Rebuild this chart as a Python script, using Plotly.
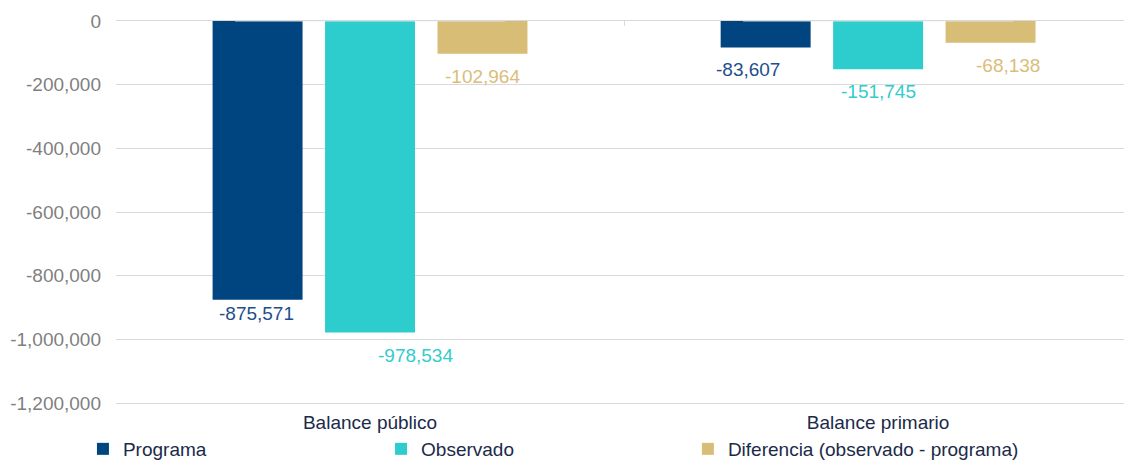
import plotly.graph_objects as go

categories = ["Balance público", "Balance primario"]
programa = [-875571, -83607]
observado = [-978534, -151745]
diferencia = [-102964, -68138]

series_names = ["Programa", "Observado", "Diferencia (observado - programa)"]
bar_colors = ["#00457F", "#2ECDCD", "#D8BD77"]
label_colors = ["#1F4E8C", "#33CCCC", "#D9BE7A"]

y_ticks = [0, -200000, -400000, -600000, -800000, -1000000, -1200000]
y_tick_text = ["0", "-200,000", "-400,000", "-600,000", "-800,000", "-1,000,000", "-1,200,000"]

# styling: pixel offsets of each bar within its group and of the data labels
slot_shift = [-113, 0, 112.5]
label_dx = [[-1, -17.5], [45, 0], [0, 17.5]]
label_dy = [[15, 23], [23.5, 23.4], [23.7, 24]]
legend_x = [0.0738, 0.339, 0.612]

FONT = "Liberation Sans, Arial, sans-serif"
FS = 19

fig = go.Figure()
series = [programa, observado, diferencia]
for i, (name, vals, col) in enumerate(zip(series_names, series, bar_colors)):
    fig.add_trace(go.Bar(
        x=categories, y=vals, name=name,
        marker=dict(color=col, line=dict(width=0)),
        legend="legend" if i == 0 else f"legend{i+1}",
    ))
    for j, v in enumerate(vals):
        fig.add_annotation(
            x=categories[j], y=v, xref="x", yref="y",
            text=f"{v:,}", showarrow=False,
            xanchor="center", yanchor="middle",
            xshift=slot_shift[i] + label_dx[i][j], yshift=-label_dy[i][j] + 1,
            font=dict(family=FONT, size=FS, color=label_colors[i]),
        )

leg_common = dict(
    orientation="h", xref="container", yref="container",
    xanchor="left", y=-0.0085, yanchor="bottom",
    itemwidth=30, font=dict(family=FONT, size=FS, color="#1B2A4A"),
    bgcolor="rgba(0,0,0,0)",
)

fig.update_layout(
    width=1124, height=468,
    margin=dict(l=116, r=0, t=21, b=65, autoexpand=False),
    plot_bgcolor="white", paper_bgcolor="white",
    barmode="group", bargap=0.336, bargroupgap=0.2,
    font=dict(family=FONT, size=FS),
    showlegend=True,
    legend=dict(x=legend_x[0], **leg_common),
    legend2=dict(x=legend_x[1], **leg_common),
    legend3=dict(x=legend_x[2], **leg_common),
)

fig.update_yaxes(
    range=[-1200000, 0],
    tickvals=y_ticks, ticktext=y_tick_text,
    showgrid=True, gridcolor="#D9D9D9", gridwidth=1,
    zeroline=False, showline=False, ticks="",
    tickfont=dict(family=FONT, size=FS, color="#7F7F7F"),
    ticklabelstandoff=14,
)
fig.update_xaxes(
    type="category", range=[-0.5, 1.484],
    showgrid=False, showline=True, linecolor="#D9D9D9", linewidth=1,
    ticks="",
    tickfont=dict(family=FONT, size=FS, color="#1B2A4A"),
    ticklabelstandoff=2,
)

fig.update_layout(
    xaxis2=dict(
        overlaying="x", side="top", matches="x", type="category",
        categoryarray=categories, categoryorder="array",
        showticklabels=False, ticks="inside", tickson="boundaries",
        ticklen=5, tickcolor="#D9D9D9", showline=True, linecolor="#D9D9D9",
        linewidth=1, showgrid=False, zeroline=False,
    )
)
fig.add_trace(go.Bar(x=categories, y=[0, 0], xaxis="x2", showlegend=False,
                     hoverinfo="skip", marker=dict(color="rgba(0,0,0,0)")))

fig.write_html(
    "out.html",
    config={"displayModeBar": False},
    post_script="document.body.style.margin='0';document.body.style.overflow='hidden';",
)
